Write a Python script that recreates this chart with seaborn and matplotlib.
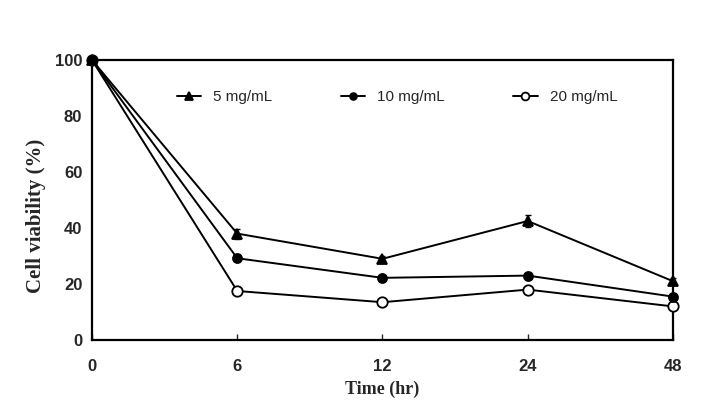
import matplotlib
matplotlib.use('Agg')
import matplotlib.pyplot as plt
import seaborn as sns
import pandas as pd

# data
times = ['0', '6', '12', '24', '48']
conc_5 = [100, 38.0, 29.0, 42.5, 21.0]
conc_10 = [100, 29.2, 22.2, 23.0, 15.5]
conc_20 = [100, 17.5, 13.5, 18.0, 12.0]
err_5 = [0, 1.8, 1.0, 2.0, 1.0]
err_10 = [0, 1.0, 0.8, 0.8, 0.8]
err_20 = [0, 0.8, 0.6, 0.8, 0.6]
labels = ['5 mg/mL', '10 mg/mL', '20 mg/mL']

sns.set_style('white')
plt.rcParams['font.family'] = ['Liberation Sans', 'DejaVu Sans']

fig, ax = plt.subplots(figsize=(7.21, 4.07), dpi=100)
fig.subplots_adjust(left=0.1276, right=0.9334, bottom=0.1646, top=0.8526)

pos = list(range(len(times)))
# filled markers sit on top of the open one, so the shared 0 hr point looks solid
series = [
    (conc_5, err_5, labels[0], 5, dict(marker='^', markerfacecolor='black', markersize=7)),
    (conc_10, err_10, labels[1], 4, dict(marker='o', markerfacecolor='black', markersize=6.5)),
    (conc_20, err_20, labels[2], 3, dict(marker='o', markerfacecolor='white', markersize=7.5)),
]

for vals, errs, lab, z, mk in series:
    df = pd.DataFrame({'pos': pos, 'viability': vals})
    ax.errorbar(pos, vals, yerr=errs, fmt='none', ecolor='black',
                elinewidth=1.0, capsize=2.5, capthick=1.0, zorder=2)
    sns.lineplot(data=df, x='pos', y='viability', ax=ax, color='black',
                 linewidth=1.4, markeredgecolor='black',
                 markeredgewidth=1.3, label=lab, zorder=z, **mk)

ax.set_xlim(0, len(times) - 1)
ax.set_ylim(0, 100)
ax.set_xticks(pos)
ax.set_xticklabels(times)
ax.set_yticks([0, 20, 40, 60, 80, 100])
for lbl in ax.get_xticklabels() + ax.get_yticklabels():
    lbl.set_fontweight('bold')
    lbl.set_fontsize(12)
ax.tick_params(axis='x', direction='in', length=4, width=1, pad=14, bottom=True)
ax.tick_params(axis='y', length=0, pad=7)

for sp in ax.spines.values():
    sp.set_linewidth(1.6)
    sp.set_color('black')

ax.set_xlabel('Time (hr)', fontsize=13, fontweight='bold',
              family='Liberation Serif')
ax.set_ylabel('Cell viability (%)', fontsize=15, fontweight='bold',
              family='Liberation Serif')
ax.xaxis.set_label_coords(0.5, -0.145)
ax.yaxis.set_label_coords(-0.08, 0.445)

for ln in ax.lines:
    ln.set_clip_on(False)

ax.legend(loc='center left', bbox_to_anchor=(0.146, 0.868), ncol=3,
          frameon=False, fontsize=11, handlelength=1.6, markerscale=0.75,
          columnspacing=4.45, handletextpad=0.8, borderpad=0, borderaxespad=0)

fig.savefig('out.png', dpi=100)
